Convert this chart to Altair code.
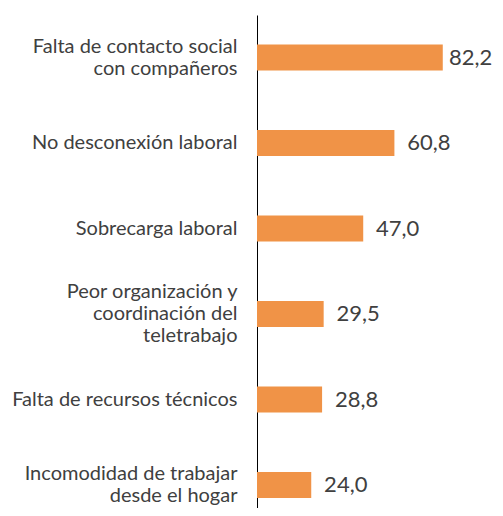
import altair as alt
import pandas as pd

categories = [
    "Falta de contacto social|con compañeros",
    "No desconexión laboral",
    "Sobrecarga laboral",
    "Peor organización y|coordinación del|teletrabajo",
    "Falta de recursos técnicos",
    "Incomodidad de trabajar|desde el hogar",
]
values = [82.2, 60.8, 47.0, 29.5, 28.8, 24.0]
value_labels = ["82,2", "60,8", "47,0", "29,5", "28,8", "24,0"]

df = pd.DataFrame({"cat": categories, "val": values, "lbl": value_labels})

LINE_H = 22

y = alt.Y(
    "cat:N",
    sort=categories,
    title=None,
    scale=alt.Scale(paddingInner=0.696, paddingOuter=0.231, align=0.747),
    axis=alt.Axis(
        labelExpr="split(datum.label, '|')",
        labelOffset=alt.ExprRef(
            expr=f"-(length(split(datum.label, '|')) - 1) * {LINE_H / 2}"
        ),
        domainColor="black",
        domainWidth=1,
        ticks=False,
        labelPadding=20,
        labelFont="Lato",
        labelFontSize=20,
        labelColor="#404040",
        labelLimit=300,
        labelLineHeight=LINE_H,
        grid=False,
    ),
)
x = alt.X("val:Q", scale=alt.Scale(domain=[0, 100]), axis=None)

bars = alt.Chart(df).mark_bar(color="#F09347").encode(x=x, y=y)
text = (
    alt.Chart(df)
    .transform_calculate(lx="min(datum.val + 5.7, 85)")
    .mark_text(align="left", baseline="middle", font="Lato", fontSize=22, color="#404040")
    .encode(x=alt.X("lx:Q", scale=alt.Scale(domain=[0, 100]), axis=None), y=y, text="lbl:N")
)

chart = (
    (bars + text)
    .properties(
        width=226,
        height=493,
        padding={"left": 249, "top": 7, "right": 12, "bottom": 0},
        autosize=alt.AutoSizeParams(type="none"),
    )
    .configure_view(stroke=None)
)

chart.save("out.html", embed_options={"renderer": "svg", "actions": False})
